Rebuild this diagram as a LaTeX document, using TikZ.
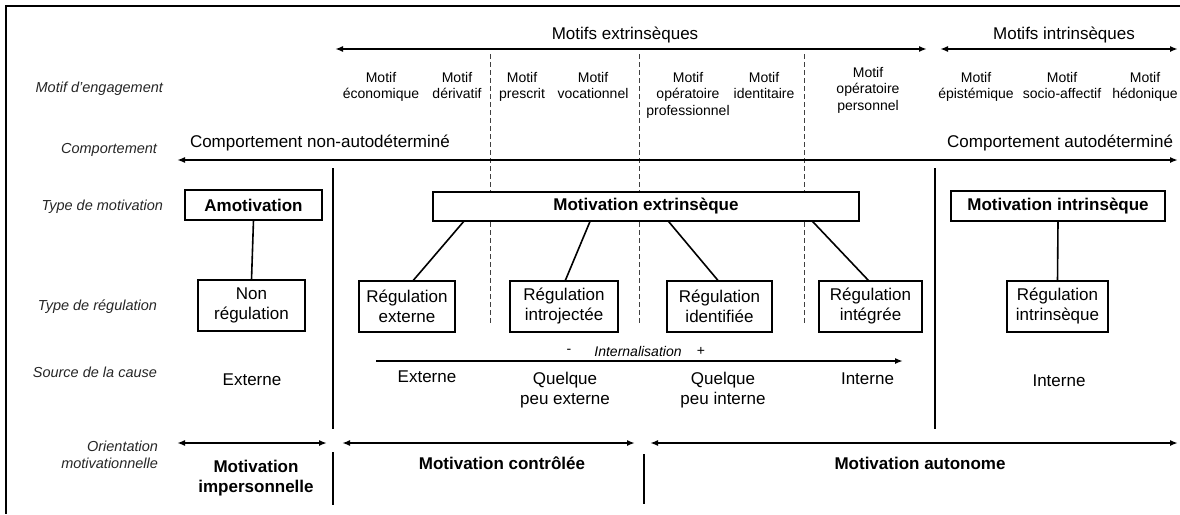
\documentclass[tikz,border=0pt]{standalone}
\usepackage{fontspec}
\setmainfont{Liberation Sans}
\usetikzlibrary{arrows.meta,calc}

\begin{document}
\begin{tikzpicture}[x=1pt,y=-1pt,
  every node/.style={inner sep=0pt,outer sep=0pt},
  small/.style={font=\fontsize{14}{16.8}\selectfont,align=center},
  medium/.style={font=\fontsize{17}{20}\selectfont,align=center},
  strong/.style={font=\fontsize{17}{20}\selectfont\bfseries,align=center},
  rowlabel/.style={font=\fontsize{14.5}{17}\selectfont\itshape,text=black!85,align=right},
  box/.style={draw,line width=1.8pt,fill=white},
  regbox/.style={box,medium,minimum height=51pt},
  headbox/.style={box,strong,minimum height=30pt},
  link/.style={line width=1.6pt},
  dbl/.style={line width=1.7pt,{Latex[length=8pt,width=6pt]}-{Latex[length=8pt,width=6pt]}},
  fwd/.style={line width=1.7pt,-{Latex[length=8pt,width=6pt]}},
  sep/.style={line width=1.8pt},
  dashsep/.style={line width=1pt,black!75,dash pattern=on 5pt off 3pt},
  frame/.style={line width=2.5pt},
]
\useasboundingbox (0,0) rectangle (1180,514);

% outer frame (top and left edges)
\coordinate (fr-tr) at (1180,6);
\coordinate (fr-tl) at (6,6);
\coordinate (fr-bl) at (6,514);
\draw[frame] (fr-tr) -- (fr-tl) -- (fr-bl);

% row labels
\node[rowlabel,anchor=east] (lab-motif) at (163,89) {Motif d’engagement};
\node[rowlabel,anchor=east] (lab-comp) at (157,150) {Comportement};
\node[rowlabel,anchor=east] (lab-type) at (163,207) {Type de motivation};
\node[rowlabel,anchor=east] (lab-reg) at (157,307) {Type de régulation};
\node[rowlabel,anchor=east] (lab-src) at (157,372) {Source de la cause};
\node[rowlabel,anchor=north east] (lab-orient) at (158,441) {Orientation\\motivationnelle};

% column separators
\foreach \x/\n in {490/a,639/b,804/c}{
  \coordinate (ds-\n-t) at (\x,54);
  \coordinate (ds-\n-b) at (\x,325);
  \draw[dashsep] (ds-\n-t) -- (ds-\n-b);
}
\coordinate (v1-t) at (333,168);
\coordinate (v1-m) at (333,429);
\coordinate (v1-n) at (333,452);
\coordinate (v1-b) at (333,505);
\draw[sep] (v1-t) -- (v1-m);
\draw[sep] (v1-n) -- (v1-b);
\coordinate (v2-t) at (935,168);
\coordinate (v2-b) at (935,429);
\draw[sep] (v2-t) -- (v2-b);
\coordinate (v3-t) at (644,454);
\coordinate (v3-b) at (644,504);
\draw[sep] (v3-t) -- (v3-b);

% motive families
\coordinate (mx-l) at (335,49);
\coordinate (mx-r) at (927,49);
\draw[dbl] (mx-l) -- (mx-r);
\node[medium] (mx-lab) at (625,35) {Motifs extrinsèques};
\coordinate (mi-l) at (940,49);
\coordinate (mi-r) at (1178,49);
\draw[dbl] (mi-l) -- (mi-r);
\node[medium] (mi-lab) at (1064,35) {Motifs intrinsèques};

% engagement motives
\node[small,anchor=north] (m-eco) at (381,72) {Motif\\économique};
\node[small,anchor=north] (m-der) at (457,72) {Motif\\dérivatif};
\node[small,anchor=north] (m-pre) at (522,72) {Motif\\prescrit};
\node[small,anchor=north] (m-voc) at (593,72) {Motif\\vocationnel};
\node[small,anchor=north] (m-opp) at (688,72) {Motif\\opératoire\\professionnel};
\node[small,anchor=north] (m-ide) at (764,72) {Motif\\identitaire};
\node[small,anchor=north] (m-ope) at (868,67) {Motif\\opératoire\\personnel};
\node[small,anchor=north] (m-epi) at (976,72) {Motif\\épistémique};
\node[small,anchor=north] (m-soc) at (1062,72) {Motif\\socio-affectif};
\node[small,anchor=north] (m-hed) at (1145,72) {Motif\\hédonique};

% behaviour
\coordinate (cp-l) at (177,160);
\coordinate (cp-r) at (1178,160);
\draw[dbl] (cp-l) -- (cp-r);
\node[medium,anchor=west] (cp-non) at (190,143) {Comportement non-autodéterminé};
\node[medium,anchor=east] (cp-auto) at (1173,143) {Comportement autodéterminé};

% motivation types
\node[headbox,minimum width=137pt] (amot) at (253.5,205) {Amotivation};
\node[headbox,minimum width=426pt,minimum height=29pt] (mext) at (646,206.5) {Motivation extrinsèque};
\node[headbox,minimum width=214pt] (mint) at (1058,206) {Motivation intrinsèque};

% regulation types
\node[regbox,minimum width=107pt] (nreg) at (251.5,305.5) {Non\\régulation};
\node[regbox,minimum width=96pt] (rext) at (407,306.5) {Régulation\\externe};
\node[regbox,minimum width=108pt] (rintro) at (564,306.5) {Régulation\\introjectée};
\node[regbox,minimum width=105pt] (rident) at (719.5,306.5) {Régulation\\identifiée};
\node[regbox,minimum width=103pt] (rinteg) at (870.5,306.5) {Régulation\\intégrée};
\node[regbox,minimum width=101pt] (rintr) at (1057.5,306.5) {Régulation\\intrinsèque};

\draw[link] (amot.south) -- (nreg.north);
\draw[link] ($(mext.south west)!0.073!(mext.south east)$) -- ($(rext.north west)!0.56!(rext.north east)$);
\draw[link] ($(mext.south west)!0.369!(mext.south east)$) -- ($(rintro.north west)!0.51!(rintro.north east)$);
\draw[link] ($(mext.south west)!0.552!(mext.south east)$) -- ($(rident.north west)!0.49!(rident.north east)$);
\draw[link] ($(mext.south west)!0.89!(mext.south east)$) -- ($(rinteg.north west)!0.485!(rinteg.north east)$);
\draw[link] (mint.south) -- (rintr.north);

% internalisation
\coordinate (in-l) at (376,361);
\coordinate (in-r) at (903,361);
\draw[fwd] (in-l) -- (in-r);
\node[small,font=\fontsize{14}{16.8}\selectfont\itshape] (in-lab) at (638,351) {Internalisation};
\node[small] (in-minus) at (569,351) {-};
\node[small] (in-plus) at (701,351) {+};

% source of causality
\node[medium] (s-ext0) at (252,380) {Externe};
\node[medium] (s-ext1) at (427,377) {Externe};
\node[medium,anchor=north] (s-qext) at (565,372) {Quelque\\peu externe};
\node[medium,anchor=north] (s-qint) at (723,372) {Quelque\\peu interne};
\node[medium] (s-int0) at (867.5,379) {Interne};
\node[medium] (s-int1) at (1059,381) {Interne};

% motivational orientation
\coordinate (o1-l) at (177,443);
\coordinate (o1-r) at (327,443);
\draw[dbl] (o1-l) -- (o1-r);
\coordinate (o2-l) at (342,443);
\coordinate (o2-r) at (635,443);
\draw[dbl] (o2-l) -- (o2-r);
\coordinate (o3-l) at (650,443);
\coordinate (o3-r) at (1178,443);
\draw[dbl] (o3-l) -- (o3-r);
\node[strong,anchor=north] (o-imp) at (256,460) {Motivation\\impersonnelle};
\node[strong] (o-ctrl) at (502,463) {Motivation contrôlée};
\node[strong] (o-auto) at (920,463) {Motivation autonome};

\end{tikzpicture}
\end{document}
